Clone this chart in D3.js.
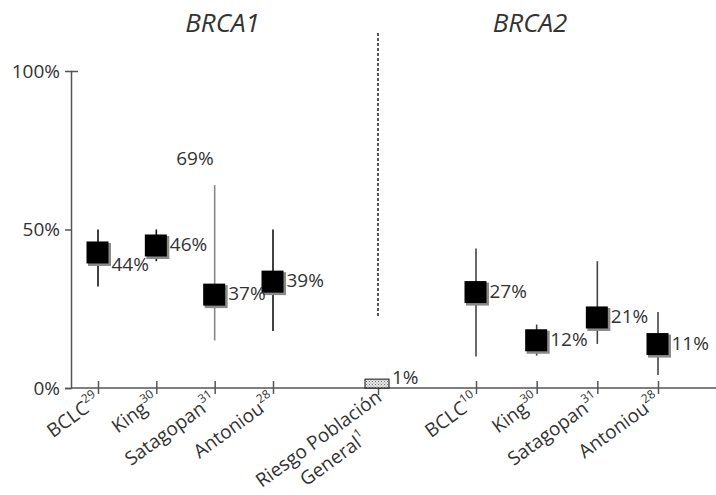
<!DOCTYPE html>
<html>
<head>
<meta charset="utf-8">
<script src="https://cdn.jsdelivr.net/npm/d3@7"></script>
<style>
  body { margin: 0; background: #fff; }
  text { font-family: "Open Sans", sans-serif; fill: #333; }
</style>
</head>
<body>
<div id="chart"></div>
<script>
// datos
var brca1Names = ['BCLC', 'King', 'Satagopan', 'Antoniou'];
var brca1Refs = ['29', '30', '31', '28'];
var brca1Point = [42.6, 44.8, 29.3, 33.4];
var brca1Low = [32, 40, 15, 18];
var brca1High = [50, 50, 64, 50];
var brca1Labels = ['44%', '46%', '37%', '39%'];
var brca1HighLabels = ['', '', '69%', ''];

var brca2Names = ['BCLC', 'King', 'Satagopan', 'Antoniou'];
var brca2Refs = ['10', '30', '31', '28'];
var brca2Point = [30.1, 14.9, 22.1, 13.7];
var brca2Low = [9.9, 10.2, 13.9, 4.1];
var brca2High = [44, 20, 40, 24];
var brca2Labels = ['27%', '12%', '21%', '11%'];

var generalName = ['Riesgo Población', 'General'];
var generalRef = '1';
var generalValue = [2.8];
var generalLabel = '1%';

var yTicks = [0, 50, 100];
var titles = ['BRCA1', 'BRCA2'];

var width = 716, height = 495;
var svg = d3.select('#chart').append('svg')
    .attr('width', width)
    .attr('height', height);

// patron del riesgo general
var defs = svg.append('defs');
var pat = defs.append('pattern')
    .attr('id', 'hatch')
    .attr('width', 3).attr('height', 3)
    .attr('patternUnits', 'userSpaceOnUse');
pat.append('rect').attr('width', 3).attr('height', 3).attr('fill', '#e6e6e6');
pat.append('rect').attr('width', 1).attr('height', 1).attr('fill', '#777');
pat.append('rect').attr('x', 1.5).attr('y', 1.5).attr('width', 1).attr('height', 1).attr('fill', '#999');

var y0 = 388;
var yScale = d3.scaleLinear().domain([0, 100]).range([y0, 71]);

var x1 = d3.scalePoint().domain(brca1Names).range([98, 273]);
var x2 = d3.scalePoint().domain(brca2Names).range([476, 658]);
var xg = d3.scalePoint().domain([generalName.join(' ')]).range([340, 416]);

// titulos
svg.selectAll('.title')
    .data(titles)
    .enter()
    .append('text')
    .attr('class', 'title')
    .attr('x', function(d, i) { return i == 0 ? (x1.range()[0] + x1.range()[1]) / 2 + 37 : (x2.range()[0] + x2.range()[1]) / 2 - 37; })
    .attr('y', 32)
    .attr('text-anchor', 'middle')
    .style('font-size', '26px')
    .style('font-style', 'italic')
    .text(function(d) { return d; });

// eje Y
var yAxis = d3.axisLeft(yScale)
    .tickValues(yTicks)
    .tickFormat(function(d) { return d + '%'; })
    .tickSizeOuter(0)
    .tickSize(6)
    .tickPadding(5);
var gy = svg.append('g')
    .attr('transform', 'translate(71,0)')
    .call(yAxis);
gy.select('.domain').attr('stroke', '#555').attr('stroke-width', 1.5);
gy.selectAll('.tick line').attr('stroke', '#555').attr('stroke-width', 1.5);
gy.selectAll('.tick').filter(function(d) { return d == 100; }).select('line').attr('x2', 7);
gy.selectAll('.tick text')
    .style('font-size', '19px')
    .style('font-family', '"Open Sans", sans-serif')
    .attr('fill', '#333');

// linea del eje X
svg.append('line')
    .attr('x1', 71).attr('x2', width)
    .attr('y1', y0).attr('y2', y0)
    .attr('stroke', '#555')
    .attr('stroke-width', 1.5);

var angle = -36;
function xAxisGroup(scale, refs) {
    var ax = d3.axisBottom(scale).tickSize(6).tickSizeOuter(0).tickFormat('');
    var g = svg.append('g')
        .attr('transform', 'translate(0,' + y0 + ')')
        .call(ax);
    g.select('.domain').remove();
    g.selectAll('.tick line')
        .attr('y1', -7).attr('y2', 6)
        .attr('stroke', '#555').attr('stroke-width', 1.5);
    g.selectAll('.tick text').remove();
    if (refs) {
        g.selectAll('.tick').each(function(d, i) {
            var t = d3.select(this).append('text')
                .attr('transform', 'translate(3,15) rotate(' + angle + ')')
                .attr('text-anchor', 'end')
                .style('font-size', '19px');
            t.append('tspan').text(d);
            t.append('tspan').attr('dy', -9).style('font-size', '12px').text(refs[i]);
        });
    }
    return g;
}
xAxisGroup(x1, brca1Refs);
xAxisGroup(x2, brca2Refs);
var gg = xAxisGroup(xg, null);
gg.select('.tick line').attr('y1', 0).attr('y2', 7);

// etiqueta del riesgo general (dos lineas centradas)
var gl = svg.append('g')
    .attr('transform', 'translate(' + (xg(generalName.join(' ')) + 5) + ',' + (y0 + 12) + ') rotate(' + angle + ')');
var l1 = gl.append('text')
    .attr('text-anchor', 'end')
    .style('font-size', '19px')
    .text(generalName[0]);
var w1 = l1.node().getComputedTextLength();
var l2 = gl.append('text')
    .attr('x', -w1 / 2)
    .attr('y', 25)
    .attr('text-anchor', 'middle')
    .style('font-size', '19px');
l2.append('tspan').text(generalName[1]);
l2.append('tspan').attr('dy', -9).style('font-size', '12px').text(generalRef);

// linea discontinua separadora
svg.append('line')
    .attr('x1', xg(generalName.join(' '))).attr('x2', xg(generalName.join(' ')))
    .attr('y1', 33).attr('y2', 317)
    .attr('stroke', '#222')
    .attr('stroke-width', 1.5)
    .attr('stroke-dasharray', '3,2');

// barra del riesgo general
svg.selectAll('.gen')
    .data(generalValue)
    .enter()
    .append('rect')
    .attr('class', 'gen')
    .attr('x', xg(generalName.join(' ')) - 13)
    .attr('y', function(d) { return yScale(d); })
    .attr('width', 24)
    .attr('height', function(d) { return y0 - yScale(d); })
    .attr('fill', 'url(#hatch)')
    .attr('stroke', '#111')
    .attr('stroke-width', 1);
svg.append('text')
    .attr('x', xg(generalName.join(' ')) + 14)
    .attr('y', yScale(generalValue[0]) + 5)
    .style('font-size', '19px')
    .text(generalLabel);

// puntos con intervalos
var box = 23;
function drawGroup(scale, names, point, low, high, labels, lineColor, cls) {
    var idx = d3.range(names.length);
    svg.selectAll('.ci' + cls)
        .data(idx)
        .enter()
        .append('line')
        .attr('class', 'ci' + cls)
        .attr('x1', function(i) { return scale(names[i]); })
        .attr('x2', function(i) { return scale(names[i]); })
        .attr('y1', function(i) { return yScale(high[i]); })
        .attr('y2', function(i) { return yScale(low[i]); })
        .attr('stroke', lineColor)
        .attr('stroke-width', 1.6);
    svg.selectAll('.sh' + cls)
        .data(idx)
        .enter()
        .append('rect')
        .attr('class', 'sh' + cls)
        .attr('x', function(i) { return scale(names[i]) - box / 2 + 1.5; })
        .attr('y', function(i) { return yScale(point[i]) - box / 2 + 1.5; })
        .attr('width', box)
        .attr('height', box)
        .attr('fill', '#8a8a8a');
    svg.selectAll('.bx' + cls)
        .data(idx)
        .enter()
        .append('rect')
        .attr('class', 'bx' + cls)
        .attr('x', function(i) { return scale(names[i]) - box / 2; })
        .attr('y', function(i) { return yScale(point[i]) - box / 2; })
        .attr('width', box - 1)
        .attr('height', box - 1)
        .attr('fill', '#000');
    svg.selectAll('.lb' + cls)
        .data(idx)
        .enter()
        .append('text')
        .attr('class', 'lb' + cls)
        .attr('x', function(i) { return scale(names[i]) + box / 2 + 2; })
        .attr('y', function(i) {
            // la etiqueta del primer punto de BRCA1 va mas abajo para no chocar
            if (cls == '1' && i == 0) return yScale(point[i]) + 18;
            return yScale(point[i]) + 5;
        })
        .style('font-size', '19px')
        .text(function(i) { return labels[i]; });
}

drawGroup(x1, brca1Names, brca1Point, brca1Low, brca1High, brca1Labels, '#111', '1');
drawGroup(x2, brca2Names, brca2Point, brca2Low, brca2High, brca2Labels, '#444', '2');

// Satagopan (BRCA1) va en gris
svg.selectAll('.ci1').filter(function(i) { return i == 2; }).attr('stroke', '#888');

svg.selectAll('.hl1')
    .data(d3.range(brca1Names.length).filter(function(i) { return brca1HighLabels[i] != ''; }))
    .enter()
    .append('text')
    .attr('class', 'hl1')
    .attr('x', function(i) { return x1(brca1Names[i]) - 1; })
    .attr('y', function(i) { return yScale(brca1High[i]) - 20; })
    .attr('text-anchor', 'end')
    .style('font-size', '19px')
    .text(function(i) { return brca1HighLabels[i]; });
</script>
</body>
</html>
